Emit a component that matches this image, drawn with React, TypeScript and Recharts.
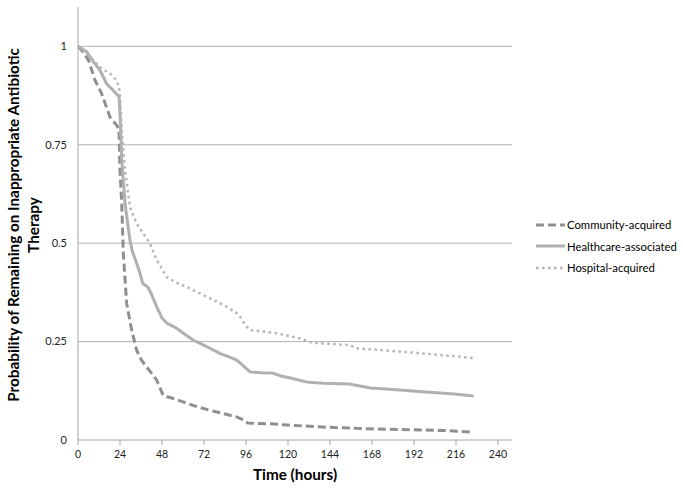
import React from "react";
import { LineChart, Line, XAxis, YAxis, CartesianGrid } from "recharts";

const seriesNames = ["Community-acquired", "Healthcare-associated", "Hospital-acquired"];

const xTicks = [0, 24, 48, 72, 96, 120, 144, 168, 192, 216, 240];
const yTicks = [0, 0.25, 0.5, 0.75, 1];

const communityTime = [0, 3, 6, 9.7, 13.5, 18.3, 22, 23.4, 24, 25, 25.9, 27.8, 30.7, 33.5, 36, 39, 42, 45, 48.6, 50.7, 52.6, 60, 67, 75, 83, 91, 94, 97, 110, 120, 135, 150, 170, 190, 210, 226];
const communityValue = [1, 0.985, 0.965, 0.914, 0.88, 0.82, 0.8, 0.79, 0.685, 0.6, 0.474, 0.347, 0.279, 0.228, 0.205, 0.186, 0.17, 0.152, 0.114, 0.11, 0.108, 0.097, 0.086, 0.076, 0.067, 0.058, 0.052, 0.043, 0.041, 0.038, 0.034, 0.031, 0.028, 0.026, 0.024, 0.02];

const healthTime = [0, 5, 9, 12.6, 16.4, 21, 23.5, 24.3, 25, 26.9, 29.7, 31, 33.5, 35, 37, 40, 42, 45, 48, 50.7, 53, 56.4, 60, 65.7, 70, 75.4, 81, 86, 90.7, 94, 98.3, 105, 111, 116.5, 122, 131, 140, 155, 167, 180, 199, 215, 226];
const healthValue = [1, 0.986, 0.96, 0.939, 0.905, 0.884, 0.871, 0.8, 0.71, 0.6, 0.507, 0.48, 0.449, 0.43, 0.398, 0.388, 0.37, 0.338, 0.31, 0.297, 0.292, 0.284, 0.272, 0.254, 0.245, 0.233, 0.22, 0.212, 0.203, 0.19, 0.173, 0.171, 0.17, 0.162, 0.157, 0.147, 0.144, 0.142, 0.132, 0.128, 0.122, 0.117, 0.112];

const hospTime = [0, 3, 6.9, 12.6, 18.3, 22, 23.5, 24.2, 25, 26.9, 29.7, 33.5, 37.3, 41, 45, 50.7, 56, 62, 68, 73.5, 80, 85, 90, 92.6, 96, 98.3, 105, 113.5, 120, 127, 134, 145, 155, 159, 175, 194, 210, 226];
const hospValue = [1, 0.99, 0.973, 0.947, 0.931, 0.914, 0.895, 0.86, 0.787, 0.685, 0.592, 0.55, 0.525, 0.5, 0.457, 0.414, 0.4, 0.389, 0.376, 0.364, 0.35, 0.338, 0.325, 0.313, 0.29, 0.279, 0.276, 0.271, 0.265, 0.258, 0.247, 0.244, 0.241, 0.233, 0.228, 0.221, 0.215, 0.208];

const zip = (t: number[], v: number[]) => t.map((x, i) => ({ t: x, v: v[i] }));

const communityData = zip(communityTime, communityValue);
const healthData = zip(healthTime, healthValue);
const hospData = zip(hospTime, hospValue);

const FONT = "Lato, 'Open Sans', sans-serif";
const GRID = "#b3b3b3";
const AXIS = "#a6a6a6";

const styles = [
  { color: "#8f8f8f", width: 3, dash: "8 4" },
  { color: "#b0b0b0", width: 3, dash: undefined as string | undefined },
  { color: "#b5b5b5", width: 2.5, dash: "2.5 3.5" },
];

const LegendBox = () => (
  <div style={{ position: "absolute", left: 536, top: 214, fontFamily: FONT, fontSize: 11.3, color: "#000" }}>
    {seriesNames.map((name, i) => (
      <div key={name} style={{ display: "flex", alignItems: "center", height: 21.5 }}>
        <svg width={31} height={10} style={{ display: "block" }}>
          <line x1={0} y1={5} x2={29} y2={5} stroke={styles[i].color} strokeWidth={styles[i].width} strokeDasharray={styles[i].dash} />
        </svg>
        <span style={{ whiteSpace: "nowrap" }}>{name}</span>
      </div>
    ))}
  </div>
);

export default function App() {
  return (
    <div style={{ position: "absolute", left: 0, top: 0, width: 683, height: 492, background: "#fff" }}>
      <LineChart width={683} height={492} margin={{ top: 7, right: 171, bottom: 22, left: 0 }}>
        <CartesianGrid vertical={false} stroke={GRID} horizontalValues={[0.25, 0.5, 0.75, 1]} />
        <XAxis
          type="number"
          dataKey="t"
          domain={[0, 248]}
          ticks={xTicks}
          allowDataOverflow
          height={30}
          stroke={AXIS}
          tickSize={5}
          tickMargin={6}
          tick={{ fill: "#222", fontSize: 10.5, fontFamily: FONT }}
          label={{
            content: () => (
              <text x={295} y={480} textAnchor="middle" fontFamily={FONT} fontWeight="bold" fontSize={15.3} fill="#000">
                Time (hours)
              </text>
            ),
          }}
        />
        <YAxis
          type="number"
          dataKey="v"
          domain={[0, 1.1]}
          ticks={yTicks}
          allowDataOverflow
          width={78}
          stroke={AXIS}
          tickLine={false}
          tickSize={0}
          tickMargin={11}
          tick={{ fill: "#222", fontSize: 11, fontFamily: FONT }}
          label={{
            content: () => (
              <g fontFamily={FONT} fontWeight="bold" fontSize={15.3} fill="#000">
                <text x={13} y={225} textAnchor="middle" dominantBaseline="central" transform="rotate(-90 13 225)">
                  Probability of Remaining on Inappropriate Antibiotic
                </text>
                <text x={33} y={225} textAnchor="middle" dominantBaseline="central" transform="rotate(-90 33 225)">
                  Therapy
                </text>
              </g>
            ),
          }}
        />
        <Line data={communityData} dataKey="v" name={seriesNames[0]} type="linear" stroke={styles[0].color} strokeWidth={styles[0].width} strokeDasharray={styles[0].dash} dot={false} activeDot={false} isAnimationActive={false} />
        <Line data={healthData} dataKey="v" name={seriesNames[1]} type="linear" stroke={styles[1].color} strokeWidth={styles[1].width} dot={false} activeDot={false} isAnimationActive={false} />
        <Line data={hospData} dataKey="v" name={seriesNames[2]} type="linear" stroke={styles[2].color} strokeWidth={styles[2].width} strokeDasharray={styles[2].dash} dot={false} activeDot={false} isAnimationActive={false} />
      </LineChart>
      <LegendBox />
    </div>
  );
}
